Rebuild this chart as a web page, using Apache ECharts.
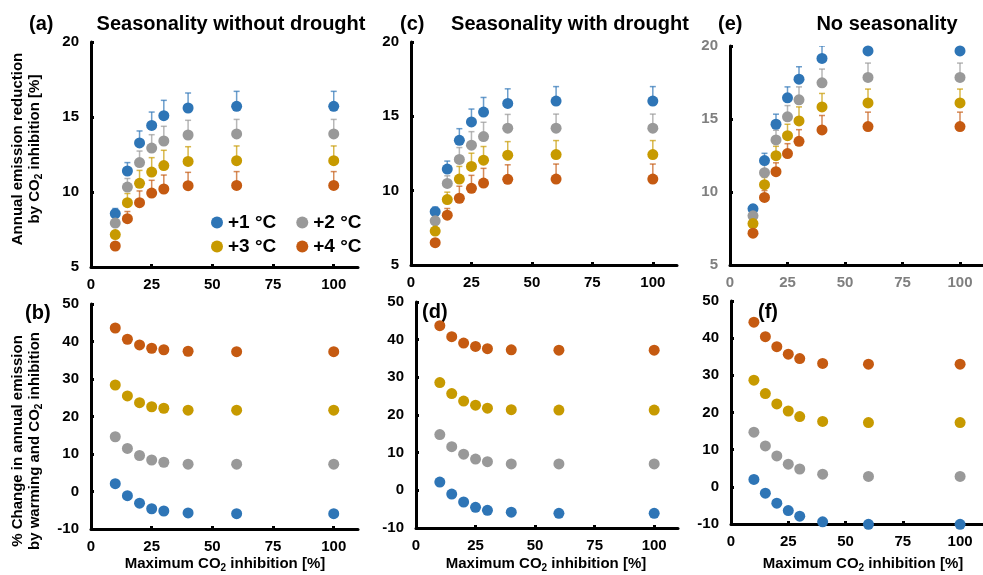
<!DOCTYPE html>
<html>
<head>
<meta charset="utf-8">
<script src="https://cdn.jsdelivr.net/npm/echarts@6/dist/echarts.min.js"></script>
<style>
html,body{margin:0;padding:0;background:#fff;}
#chart{width:983px;height:575px;}
</style>
</head>
<body>
<div id="chart"></div>
<script>
// ---------- data ----------
const xVals = [10, 15, 20, 25, 30, 40, 60, 100];
const groupNames = ['+1 °C', '+2 °C', '+3 °C', '+4 °C'];
const xTicks = [0, 25, 50, 75, 100];

// (a) Seasonality without drought: annual emission reduction [%]
const aWarm1 = [8.56, 11.40, 13.27, 14.44, 15.09, 15.60, 15.71, 15.71];
const aWarm2 = [7.93, 10.33, 11.96, 12.93, 13.40, 13.80, 13.87, 13.87];
const aWarm3 = [7.16, 9.29, 10.58, 11.33, 11.76, 12.04, 12.09, 12.09];
const aWarm4 = [6.40, 8.22, 9.29, 9.93, 10.20, 10.42, 10.44, 10.44];
const aUpper1 = [8.90, 11.96, 14.07, 15.33, 16.11, 16.60, 16.71, 16.71];
const aUpper2 = [8.20, 10.90, 12.73, 13.82, 14.38, 14.78, 14.84, 14.84];
const aUpper3 = [7.40, 9.90, 11.44, 12.29, 12.78, 13.02, 13.07, 13.07];
const aUpper4 = [6.60, 8.70, 10.07, 10.78, 11.13, 11.31, 11.36, 11.36];

// (c) Seasonality with drought
const cWarm1 = [8.59, 11.45, 13.39, 14.62, 15.29, 15.87, 16.03, 16.03];
const cWarm2 = [7.97, 10.49, 12.10, 13.06, 13.64, 14.20, 14.20, 14.20];
const cWarm3 = [7.28, 9.40, 10.78, 11.63, 12.05, 12.39, 12.43, 12.43];
const cWarm4 = [6.50, 8.35, 9.49, 10.16, 10.51, 10.76, 10.78, 10.78];
const cUpper1 = [8.90, 11.99, 14.17, 15.49, 16.27, 16.85, 17.00, 17.00];
const cUpper2 = [8.20, 11.00, 12.90, 13.97, 14.60, 15.13, 15.15, 15.15];
const cUpper3 = [7.50, 9.90, 11.63, 12.52, 12.97, 13.30, 13.37, 13.37];
const cUpper4 = [6.70, 8.80, 10.30, 11.03, 11.50, 11.74, 11.79, 11.79];

// (e) No seasonality
const eWarm1 = [8.85, 12.15, 14.64, 16.45, 17.73, 19.15, 19.66, 19.66];
const eWarm2 = [8.37, 11.32, 13.57, 15.15, 16.31, 17.48, 17.85, 17.85];
const eWarm3 = [7.84, 10.50, 12.49, 13.86, 14.87, 15.83, 16.10, 16.10];
const eWarm4 = [7.18, 9.63, 11.39, 12.63, 13.47, 14.25, 14.48, 14.48];
const eUpper1 = [9.10, 12.65, 15.33, 17.20, 18.58, 20.00, 20.60, 20.60];
const eUpper2 = [8.60, 11.90, 14.23, 15.92, 17.20, 18.42, 18.83, 18.83];
const eUpper3 = [8.00, 11.00, 13.13, 14.64, 15.83, 16.75, 17.05, 17.05];
const eUpper4 = [7.40, 10.10, 12.00, 13.31, 14.27, 15.24, 15.47, 15.47];

// (b) % change, seasonality without drought
const bWarm1 = [2.1, -1.1, -3.1, -4.6, -5.2, -5.7, -5.9, -5.9];
const bWarm2 = [14.6, 11.5, 9.6, 8.4, 7.8, 7.3, 7.3, 7.3];
const bWarm3 = [28.4, 25.5, 23.7, 22.6, 22.2, 21.7, 21.7, 21.7];
const bWarm4 = [43.6, 40.6, 39.1, 38.2, 37.8, 37.4, 37.3, 37.3];

// (d) % change, seasonality with drought
const dWarm1 = [2.2, -1.0, -3.1, -4.5, -5.3, -5.8, -6.1, -6.1];
const dWarm2 = [14.8, 11.6, 9.6, 8.3, 7.6, 7.0, 7.0, 7.0];
const dWarm3 = [28.6, 25.7, 23.7, 22.6, 21.8, 21.4, 21.3, 21.3];
const dWarm4 = [43.7, 40.8, 39.1, 38.2, 37.6, 37.3, 37.2, 37.2];

// (f) % change, no seasonality
const fWarm1 = [2.0, -1.7, -4.4, -6.4, -7.9, -9.4, -10.1, -10.1];
const fWarm2 = [14.7, 11.0, 8.3, 6.1, 4.8, 3.4, 2.8, 2.8];
const fWarm3 = [28.7, 25.1, 22.3, 20.4, 18.9, 17.6, 17.3, 17.3];
const fWarm4 = [44.3, 40.4, 37.7, 35.7, 34.5, 33.2, 33.0, 33.0];

// ---------- styling ----------
const colors = ['#2E75B6', '#999999', '#C79A00', '#C55A11'];
const FONT = '"Liberation Sans", Arial, Helvetica, sans-serif';

const chart = echarts.init(document.getElementById('chart'), null, {renderer: 'canvas'});

const grids = [
  {left: 91, top: 42, width: 267, height: 225},   // a
  {left: 91, top: 304, width: 267, height: 225},  // b
  {left: 411, top: 42, width: 266, height: 223},  // c
  {left: 416, top: 302, width: 262, height: 226}, // d
  {left: 730, top: 46, width: 265, height: 219},  // e
  {left: 731, top: 301, width: 264, height: 223}  // f
];

function xAxisFor(i, labelColor) {
  return {
    type: 'value', gridIndex: i, min: 0, max: 110, interval: 25,
    axisLine: {show: true, onZero: false, lineStyle: {color: '#000', width: 3}},
    axisTick: {show: true, inside: true, length: 3, lineStyle: {color: '#000', width: 3}, customValues: xTicks},
    axisLabel: {color: labelColor, fontSize: 15, fontWeight: 'bold', fontFamily: FONT, margin: 10, customValues: xTicks},
    splitLine: {show: false}
  };
}
function yAxisFor(i, top, labelColor) {
  return {
    type: 'value', gridIndex: i,
    min: top ? 5 : -10, max: top ? 20 : 50, interval: top ? 5 : 10,
    axisLine: {show: true, onZero: false, lineStyle: {color: '#000', width: 3}},
    axisTick: {show: true, inside: true, length: 3, lineStyle: {color: '#000', width: 3}},
    axisLabel: {color: labelColor, fontSize: 15, fontWeight: 'bold', fontFamily: FONT, margin: 12},
    splitLine: {show: false}
  };
}

const xAxes = [
  xAxisFor(0, '#000'), xAxisFor(1, '#000'), xAxisFor(2, '#000'),
  xAxisFor(3, '#000'), xAxisFor(4, '#7F7F7F'), xAxisFor(5, '#000')
];
const yAxes = [
  yAxisFor(0, true, '#000'), yAxisFor(1, false, '#000'), yAxisFor(2, true, '#000'),
  yAxisFor(3, false, '#000'), yAxisFor(4, true, '#7F7F7F'), yAxisFor(5, false, '#000')
];

const series = [];
function pairs(ys) { return xVals.map((x, k) => [x, ys[k]]); }
function triples(ys, ups) { return xVals.map((x, k) => [x, ys[k], ups[k]]); }

function renderErr(params, api) {
  const x = api.value(0), lo = api.value(1), hi = api.value(2);
  const p0 = api.coord([x, lo]);
  const p1 = api.coord([x, hi]);
  const col = api.visual('color');
  const cap = 3;
  return {
    type: 'group',
    children: [
      {type: 'line', shape: {x1: p0[0], y1: p0[1], x2: p1[0], y2: p1[1]}, style: {stroke: col, lineWidth: 1.5, opacity: 0.7}},
      {type: 'line', shape: {x1: p1[0] - cap, y1: p1[1], x2: p1[0] + cap, y2: p1[1]}, style: {stroke: col, lineWidth: 1.5, opacity: 0.7}}
    ]
  };
}

function addPanel(idx, means, uppers) {
  means.forEach((m, g) => {
    if (uppers) {
      series.push({
        type: 'custom', name: groupNames[g], xAxisIndex: idx, yAxisIndex: idx,
        renderItem: renderErr, clip: true, z: 2, silent: true,
        itemStyle: {color: colors[g]},
        encode: {x: 0, y: [1, 2]},
        data: triples(m, uppers[g])
      });
    }
    series.push({
      type: 'scatter', name: groupNames[g], xAxisIndex: idx, yAxisIndex: idx,
      symbol: 'circle', symbolSize: 11, clip: false, z: 3,
      itemStyle: {color: colors[g], opacity: 1},
      data: pairs(m)
    });
  });
}

addPanel(0, [aWarm1, aWarm2, aWarm3, aWarm4], [aUpper1, aUpper2, aUpper3, aUpper4]);
addPanel(1, [bWarm1, bWarm2, bWarm3, bWarm4], null);
addPanel(2, [cWarm1, cWarm2, cWarm3, cWarm4], [cUpper1, cUpper2, cUpper3, cUpper4]);
addPanel(3, [dWarm1, dWarm2, dWarm3, dWarm4], null);
addPanel(4, [eWarm1, eWarm2, eWarm3, eWarm4], [eUpper1, eUpper2, eUpper3, eUpper4]);
addPanel(5, [fWarm1, fWarm2, fWarm3, fWarm4], null);

const legendBase = {
  orient: 'horizontal', icon: 'circle', itemWidth: 12, itemHeight: 12, itemGap: 20,
  selectedMode: false, padding: 0,
  textStyle: {color: '#000', fontSize: 19, fontWeight: 'bold', fontFamily: FONT, padding: [0, 0, 0, 0]}
};

const titleFont = 'bold 20px ' + FONT;
function txt(x, y, text, align) {
  return {type: 'text', x: x, y: y, style: {text: text, font: titleFont, fill: '#000', align: align || 'left', verticalAlign: 'middle'}};
}
const subRich = {
  n: {fontSize: 15, fontWeight: 'bold', fontFamily: FONT, color: '#000', lineHeight: 18},
  s: {fontSize: 10, fontWeight: 'bold', fontFamily: FONT, color: '#000', lineHeight: 10, verticalAlign: 'bottom'}
};
function richTxt(x, y, text, rot) {
  return {type: 'text', x: x, y: y, rotation: rot || 0,
    style: {text: text, rich: subRich, align: 'center', verticalAlign: 'middle', fill: '#000',
            font: 'bold 15px ' + FONT}};
}

const graphics = [
  txt(29, 24, '(a)'), txt(231, 24, 'Seasonality without drought', 'center'),
  txt(400, 24, '(c)'), txt(570, 24, 'Seasonality with drought', 'center'),
  txt(718, 24, '(e)'), txt(887, 24, 'No seasonality', 'center'),
  txt(25, 313, '(b)'), txt(422, 312, '(d)'), txt(758, 312, '(f)'),
  richTxt(18, 149, '{n|Annual emission reduction}', Math.PI / 2),
  richTxt(35, 149, '{n|by CO}{s|2}{n| inhibition [%]}', Math.PI / 2),
  richTxt(18, 441, '{n|% Change in annual emission}', Math.PI / 2),
  richTxt(35, 441, '{n|by warming and CO}{s|2}{n| inhibition}', Math.PI / 2),
  richTxt(225, 564, '{n|Maximum CO}{s|2}{n| inhibition [%]}'),
  richTxt(546, 564, '{n|Maximum CO}{s|2}{n| inhibition [%]}'),
  richTxt(863, 564, '{n|Maximum CO}{s|2}{n| inhibition [%]}')
];

chart.setOption({
  backgroundColor: '#fff',
  animation: false,
  textStyle: {fontFamily: FONT},
  grid: grids,
  xAxis: xAxes,
  yAxis: yAxes,
  legend: [
    Object.assign({}, legendBase, {left: 211, top: 213, data: [groupNames[0], groupNames[1]]}),
    Object.assign({}, legendBase, {left: 211, top: 237, data: [groupNames[2], groupNames[3]]})
  ],
  graphic: graphics,
  series: series
});
</script>
</body>
</html>
